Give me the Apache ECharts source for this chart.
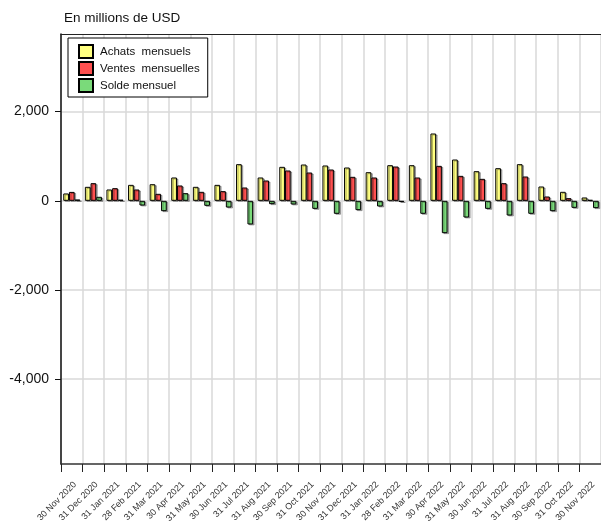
<!DOCTYPE html>
<html>
<head>
<meta charset="utf-8">
<script src="https://cdn.jsdelivr.net/npm/echarts@6/dist/echarts.min.js"></script>
<style>html,body{margin:0;padding:0;background:#fff}#c{width:601px;height:526px}</style>
</head>
<body>
<div id="c"></div>
<script>
var categories = ["30 Nov 2020","31 Dec 2020","31 Jan 2021","28 Feb 2021","31 Mar 2021","30 Apr 2021","31 May 2021","30 Jun 2021","31 Jul 2021","31 Aug 2021","30 Sep 2021","31 Oct 2021","30 Nov 2021","31 Dec 2021","31 Jan 2022","28 Feb 2022","31 Mar 2022","30 Apr 2022","31 May 2022","30 Jun 2022","31 Jul 2022","31 Aug 2022","30 Sep 2022","31 Oct 2022","30 Nov 2022"];
var achats = [165,314,254,358,373,523,314,358,822,523,762,814,792,747,642,799,799,1509,926,665,732,822,321,202,75];
var ventes = [200,396,284,254,157,344,202,217,299,456,680,635,702,538,523,769,523,784,560,493,396,545,97,60,22];
var solde = [30,90,25,-105,-232,172,-112,-150,-530,-75,-82,-180,-291,-209,-127,-25,-291,-725,-374,-180,-329,-291,-232,-157,-164];
var yTicks = [-4000,-2000,0,2000];
var seriesNames = ["Achats  mensuels","Ventes  mensuelles","Solde mensuel"];

var FONT = "'Liberation Sans', Arial, sans-serif";
var chart = echarts.init(document.getElementById('c'), null, {renderer: 'canvas'});
function barSeries(name, data, color) {
  return {
    name: name, type: 'bar', data: data, xAxisIndex: 0, yAxisIndex: 0,
    barWidth: 5.7, barGap: '0%',
    itemStyle: {color: color, borderColor: '#000', borderWidth: 1,
      shadowColor: 'rgba(0,0,0,0.3)', shadowOffsetX: 1.5, shadowOffsetY: 1},
    emphasis: {disabled: true}, animation: false
  };
}
chart.setOption({
  animation: false,
  title: {text: 'En millions de USD', left: 59, top: 6,
    textStyle: {fontFamily: FONT, fontSize: 13.5, fontWeight: 'normal', color: '#111'}},
  legend: {
    orient: 'vertical', left: 68, top: 38,
    itemWidth: 14, itemHeight: 13, itemGap: 2,
    padding: [6, 8, 4, 10],
    borderColor: '#000', borderWidth: 1, backgroundColor: '#fff',
    icon: 'rect',
    textStyle: {fontFamily: FONT, fontSize: 11.5, color: '#111', padding: [0, 0, 0, 2]},
    data: seriesNames
  },
  grid: {left: 61, top: 34, right: -2, bottom: 62, containLabel: false},
  xAxis: [{
    type: 'category', data: categories, position: 'bottom',
    axisLine: {show: true, onZero: false, lineStyle: {color: '#333', width: 1.5}},
    axisTick: {show: true, length: 8, interval: 0, lineStyle: {color: '#222', width: 1}},
    axisLabel: {interval: 0, rotate: 45, fontSize: 9, fontFamily: FONT, color: '#333', margin: 16, verticalAlign: 'top'},
    splitLine: {show: true, interval: 0, lineStyle: {color: '#d9d9d9', width: 1.5}}
  }, {
    type: 'category', data: categories, position: 'top',
    axisLine: {show: true, onZero: false, lineStyle: {color: '#222', width: 1}},
    axisTick: {show: false}, axisLabel: {show: false}, splitLine: {show: false}
  }],
  yAxis: {
    type: 'value', min: -5900, max: 3740,
    axisLine: {show: true, onZero: false, lineStyle: {color: '#111', width: 1.5}},
    axisTick: {show: true, length: 6, customValues: yTicks, lineStyle: {color: '#111'}},
    axisLabel: {customValues: yTicks, margin: 12, fontSize: 14, fontFamily: FONT, color: '#111',
      formatter: function (v) { return v.toLocaleString('en-US'); }},
    splitLine: {show: true, lineStyle: {color: '#d9d9d9', width: 1.5}}
  },
  series: [
    barSeries(seriesNames[0], achats, '#ffff80'),
    barSeries(seriesNames[1], ventes, '#ff5050'),
    barSeries(seriesNames[2], solde, '#7ada7a')
  ]
});
</script>
</body>
</html>
